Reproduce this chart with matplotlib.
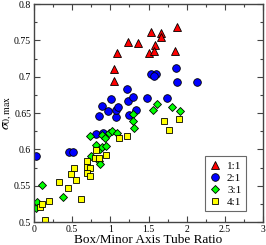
import matplotlib
matplotlib.use("Agg")
import matplotlib.pyplot as plt
from matplotlib.ticker import MultipleLocator

plt.rcParams['font.family'] = ['Liberation Serif', 'DejaVu Serif']
plt.rcParams['mathtext.fontset'] = 'stix'

x_11 = [1.236, 1.092, 1.045, 1.052, 1.874, 1.529, 1.661, 1.668, 1.359, 1.586, 1.503, 1.573, 1.852]
y_11 = [0.748, 0.733, 0.710, 0.694, 0.769, 0.761, 0.760, 0.754, 0.747, 0.743, 0.733, 0.735, 0.735]

x_21 = [0.026, 0.463, 0.507, 0.813, 0.908, 0.845, 0.885, 0.963, 1.009, 1.075, 1.075, 1.094, 1.215,
        1.228, 1.238, 1.302, 1.340, 1.485, 1.536, 1.602, 1.566, 1.743, 1.854, 1.867, 2.140]
y_21 = [0.591, 0.597, 0.596, 0.621, 0.623, 0.646, 0.660, 0.653, 0.669, 0.644, 0.654, 0.658, 0.683,
        0.667, 0.647, 0.672, 0.654, 0.670, 0.704, 0.704, 0.701, 0.670, 0.712, 0.693, 0.693]

x_31 = [0.022, 0.043, 0.109, 0.374, 0.738, 0.743, 0.808, 0.845, 0.865, 0.869, 0.895, 0.895, 0.943,
        0.930, 0.983, 1.018, 1.084, 1.293, 1.301, 1.306, 1.564, 1.616, 1.812, 1.917]
y_31 = [0.519, 0.528, 0.551, 0.535, 0.619, 0.591, 0.606, 0.584, 0.580, 0.601, 0.620, 0.603, 0.605,
        0.615, 0.623, 0.625, 0.623, 0.648, 0.639, 0.629, 0.654, 0.662, 0.658, 0.653]

x_41 = [0.138, 0.085, 0.111, 0.194, 0.332, 0.439, 0.613, 0.482, 0.522, 0.548, 0.690, 0.690, 0.734,
        0.698, 0.734, 0.809, 0.793, 0.854, 0.940, 1.116, 1.221, 1.704, 1.900, 1.763]
y_41 = [0.503, 0.521, 0.525, 0.529, 0.555, 0.547, 0.531, 0.566, 0.575, 0.558, 0.584, 0.576, 0.574,
        0.567, 0.563, 0.599, 0.588, 0.588, 0.592, 0.615, 0.619, 0.639, 0.642, 0.627]

labels = ['1:1', '2:1', '3:1', '4:1']

fig = plt.figure(figsize=(2.66, 2.45), dpi=100)
ax = fig.add_axes([34/266, 1-222/245, 229/266, 218/245])

kw = dict(linestyle='none', markeredgecolor='black', markeredgewidth=0.6)
ax.plot(x_11, y_11, marker='^', color='#ff0000', markersize=5.2, label=labels[0], **kw)
ax.plot(x_21, y_21, marker='o', color='#0000ff', markersize=5.5, label=labels[1], **kw)
ax.plot(x_31, y_31, marker='D', color='#00ff00', markersize=3.6, label=labels[2], **kw)
ax.plot(x_41, y_41, marker='s', color='#ffff00', markersize=4.6, label=labels[3], **kw)

ax.set_xlim(0, 3)
ax.set_ylim(0.5, 0.8)
ax.xaxis.set_minor_locator(MultipleLocator(0.25))
ax.yaxis.set_minor_locator(MultipleLocator(0.025))
ax.set_xticks([0, 0.5, 1, 1.5, 2, 2.5, 3])
ax.set_xticklabels(['0', '0.5', '1', '1.5', '2', '2.5', '3'])
ax.set_yticks([0.5, 0.55, 0.6, 0.65, 0.7, 0.75, 0.8])
ax.set_yticklabels(['0.5', '0.55', '0.6', '0.65', '0.7', '0.75', '0.8'])
ax.tick_params(which='both', direction='in', top=True, right=True, labelsize=7, pad=2, color='#444444')
ax.tick_params(which='major', length=4, width=0.8)
ax.tick_params(which='minor', length=2, width=0.8)
for s in ax.spines.values():
    s.set_color('#444444')
    s.set_linewidth(1.0)

ax.set_xlabel('Box/Minor Axis Tube Ratio', fontsize=9.5, labelpad=0)
ax.set_ylabel(r'$\sigma_{0,\max}$', fontsize=10, labelpad=0)

leg = ax.legend(loc='lower right', bbox_to_anchor=(0.925, 0.05), fontsize=8, frameon=True,
                fancybox=False, handlelength=1.0, handletextpad=0.6, borderpad=0.4,
                labelspacing=0.2, borderaxespad=0)
leg.get_frame().set_edgecolor('#444444')
leg.get_frame().set_linewidth(0.8)

fig.savefig('out.png', dpi=100)
